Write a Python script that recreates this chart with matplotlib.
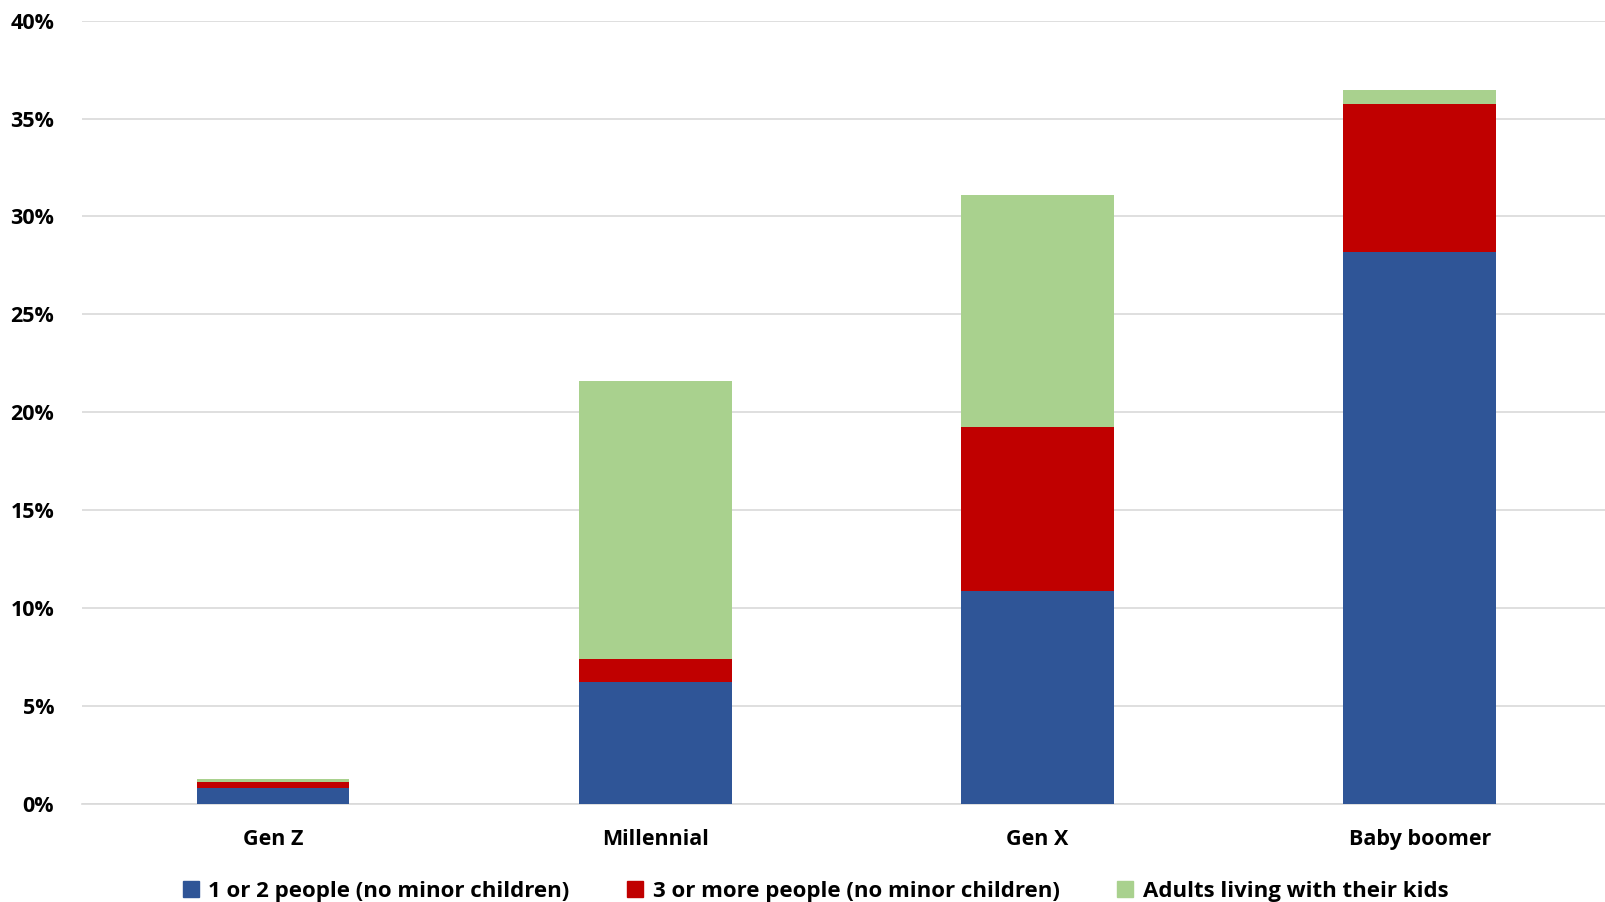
import matplotlib.pyplot as plt
import numpy as np
from matplotlib.ticker import PercentFormatter
from matplotlib.lines import Line2D

# Valores (en %)
categories = ["Gen Z", "Millennial", "Gen X", "Baby boomer"]
small_households = [0.84, 6.22, 10.88, 28.19]
large_households = [0.26, 1.21, 8.37, 7.53]
with_kids = [0.20, 14.17, 11.82, 0.73]
series_names = ["1 or 2 people (no minor children)",
                "3 or more people (no minor children)",
                "Adults living with their kids"]
colors = ["#2F5597", "#C00000", "#A9D18E"]

plt.rcParams['font.family'] = ['Open Sans', 'DejaVu Sans']

fig = plt.figure(figsize=(16.06, 9.02), dpi=100)
ax = fig.add_axes([0.051, 0.1086, 0.952, 0.8686])

x = np.arange(len(categories))
width = 0.40
bottom = np.zeros(len(categories))
for vals, col in zip([small_households, large_households, with_kids], colors):
    ax.bar(x, vals, width, bottom=bottom, color=col, zorder=3)
    bottom += np.array(vals)

ax.set_xlim(-0.5, 3.5)
ax.set_ylim(0, 40)
ax.set_yticks(np.arange(0, 41, 5))
ax.yaxis.set_major_formatter(PercentFormatter(decimals=0))
ax.set_xticks(x)
ax.set_xticklabels(categories, fontsize=15.5, fontweight='bold')
for lab in ax.get_yticklabels():
    lab.set_fontsize(15.5)
    lab.set_fontweight('bold')
ax.tick_params(length=0)
ax.tick_params(axis='x', pad=18)
ax.tick_params(axis='y', pad=20)
ax.grid(axis='y', color='#D9D9D9', linewidth=1.2, zorder=0)
for s in ['top', 'right', 'left']:
    ax.spines[s].set_visible(False)
ax.spines['bottom'].set_color('#D9D9D9')
ax.spines['bottom'].set_linewidth(1.2)

handles = [Line2D([], [], marker='s', linestyle='none', markersize=11,
                  markerfacecolor=c, markeredgecolor=c) for c in colors]
leg = fig.legend(handles, series_names, loc='lower center', ncol=3,
                 bbox_to_anchor=(0.508, -0.022), frameon=False,
                 prop={'size': 16, 'weight': 'bold'},
                 handlelength=0.7, handletextpad=0.45, columnspacing=2.6)

plt.savefig("out.png", dpi=100)
